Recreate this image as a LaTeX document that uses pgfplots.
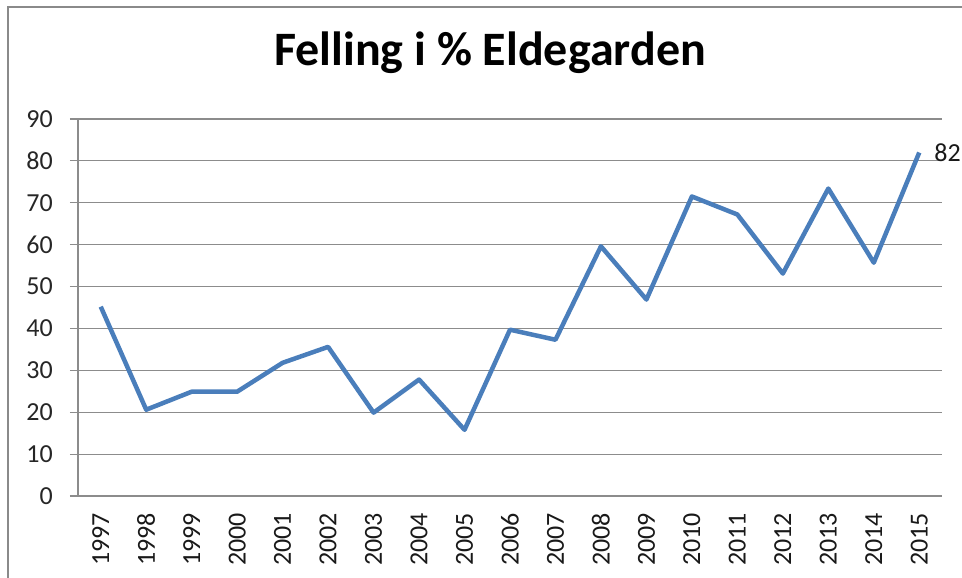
\documentclass[border=0pt]{standalone}
\usepackage{fontspec}
\setmainfont{Carlito}
\usepackage{pgfplots}
\pgfplotsset{compat=1.18}
\definecolor{serie}{HTML}{4A7EBB}
\definecolor{gridc}{HTML}{8C8C8C}
\definecolor{framec}{HTML}{8A8A8A}
\begin{document}
\begin{tikzpicture}[x=1pt,y=1pt]
\path[use as bounding box] (0,0) rectangle (962,578);
\draw[framec, line width=2pt] (8,0) -- (8,571) -- (962,571);
\node[font=\fontsize{48}{52}\selectfont\bfseries, anchor=base] at (490,512) {Felling i \% Eldegarden};
\begin{axis}[
  at={(78pt,82pt)}, anchor=south west,
  scale only axis, width=864pt, height=377pt,
  xmin=-0.5, xmax=18.5, ymin=0, ymax=90,
  axis lines=left, axis line style={-, gridc, line width=1.2pt},
  ytick={0,10,...,90},
  ymajorgrids, major grid style={gridc, line width=1.2pt},
  xtick={0,...,18},
  xticklabels={1997,1998,1999,2000,2001,2002,2003,2004,2005,2006,2007,2008,2009,2010,2011,2012,2013,2014,2015},
  x tick label style={rotate=90, anchor=east, font=\fontsize{26}{30}\selectfont, text=black!90, inner sep=0pt, xshift=-9pt},
  y tick label style={font=\fontsize{26}{30}\selectfont, text=black!85, inner sep=0pt, xshift=-17pt},
  /pgf/number format/assume math mode=true,
  tick align=outside,
  major tick length=8pt,
  tick style={gridc, line width=1.2pt},
  x tick style={draw=none},
  extra x ticks={-0.5,0.5,...,18.5},
  extra x tick labels={},
  extra x tick style={tick style={draw=gridc, line width=1.2pt}, major tick length=8pt},
  clip=false,
]
\addplot[serie, line width=4.5pt, line join=round] coordinates {
(0,45.2) (1,20.6) (2,24.9) (3,24.9) (4,31.8) (5,35.6) (6,19.9) (7,27.8) (8,15.8) (9,39.7)
(10,37.3) (11,59.6) (12,46.9) (13,71.5) (14,67.2) (15,53.1) (16,73.4) (17,55.7) (18,82)
};
\node[anchor=west, font=\fontsize{26}{30}\selectfont, text=black!90, inner sep=0pt] at (axis cs:18,82) [xshift=15pt] {82};
\end{axis}
\end{tikzpicture}
\end{document}
